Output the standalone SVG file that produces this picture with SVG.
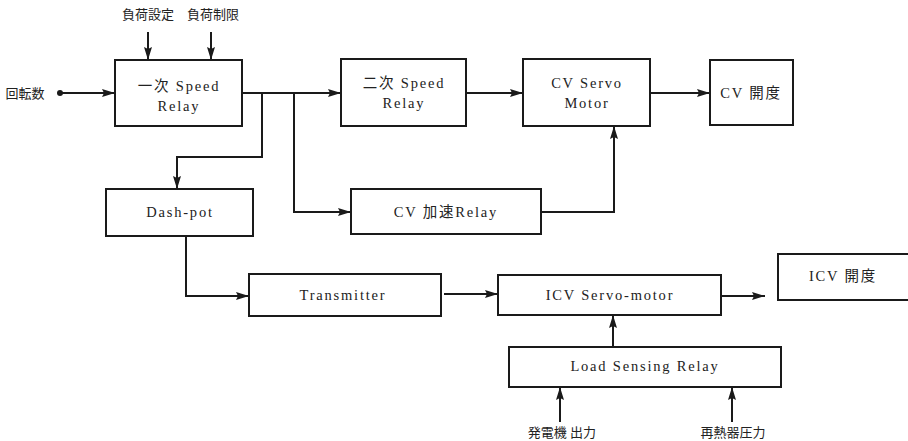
<svg xmlns="http://www.w3.org/2000/svg" width="908" height="441" viewBox="0 0 908 441">
<style>
.box{fill:#fff;stroke:#1a1a1a;stroke-width:2}
.ln{fill:none;stroke:#1a1a1a;stroke-width:2}
text{font-family:"Liberation Serif","Noto Sans CJK JP",serif;font-size:14.5px;fill:#222;text-anchor:middle;dominant-baseline:central;letter-spacing:1.8px}
.lab{font-size:13px;letter-spacing:0}
</style>
<defs>
<marker id="ah" viewBox="0 0 13 8" refX="13" refY="4" markerWidth="13" markerHeight="8" markerUnits="userSpaceOnUse" orient="auto">
<path d="M0,0 L13,4 L0,8 L2,4 Z" fill="#1a1a1a"/>
</marker>
</defs>
<g id="connectors">
<line class="ln" x1="148" y1="32" x2="148" y2="60" marker-end="url(#ah)"/>
<line class="ln" x1="211" y1="32" x2="211" y2="60" marker-end="url(#ah)"/>
<circle cx="60" cy="93" r="3" fill="#1a1a1a"/>
<line class="ln" x1="60" y1="93" x2="115" y2="93" marker-end="url(#ah)"/>
<line class="ln" x1="242" y1="93" x2="341" y2="93" marker-end="url(#ah)"/>
<polyline class="ln" points="262,93 262,157 177,157 177,189" marker-end="url(#ah)"/>
<polyline class="ln" points="294,93 294,212 351,212" marker-end="url(#ah)"/>
<line class="ln" x1="466" y1="93" x2="523" y2="93" marker-end="url(#ah)"/>
<line class="ln" x1="650" y1="93" x2="710" y2="93" marker-end="url(#ah)"/>
<polyline class="ln" points="541,212 614,212 614,126" marker-end="url(#ah)"/>
<polyline class="ln" points="186,236 186,296 249,296" marker-end="url(#ah)"/>
<line class="ln" x1="444" y1="294" x2="498" y2="294" marker-end="url(#ah)"/>
<line class="ln" x1="721" y1="296" x2="765" y2="296" marker-end="url(#ah)"/>
<line class="ln" x1="613" y1="347" x2="613" y2="315" marker-end="url(#ah)"/>
<line class="ln" x1="560" y1="422" x2="560" y2="387" marker-end="url(#ah)"/>
<line class="ln" x1="732" y1="422" x2="732" y2="387" marker-end="url(#ah)"/>
</g>
<g id="in-labels">
<text class="lab" x="148" y="14">負荷設定</text>
<text class="lab" x="213" y="14">負荷制限</text>
<text class="lab" x="25" y="93">回転数</text>
<text class="lab" x="562" y="432">発電機 出力</text>
<text class="lab" x="733" y="432">再熱器圧力</text>
</g>
<g id="n1"><rect class="box" x="115" y="60" width="127" height="66"/><text x="179" y="86">一次 Speed</text><text x="179" y="106">Relay</text></g>
<g id="n2"><rect class="box" x="341" y="59" width="125" height="67"/><text x="404" y="83">二次 Speed</text><text x="404" y="103">Relay</text></g>
<g id="n3"><rect class="box" x="523" y="59" width="127" height="67"/><text x="587" y="83">CV Servo</text><text x="587" y="103">Motor</text></g>
<g id="n4"><rect class="box" x="710" y="60" width="83" height="65"/><text x="751" y="93">CV 開度</text></g>
<g id="n5"><rect class="box" x="106" y="189" width="147" height="47"/><text x="180" y="212">Dash-pot</text></g>
<g id="n6"><rect class="box" x="351" y="189" width="190" height="45"/><text x="446" y="212">CV 加速Relay</text></g>
<g id="n7"><rect class="box" x="249" y="274" width="192" height="42"/><text x="343" y="295">Transmitter</text></g>
<g id="n8"><rect class="box" x="498" y="275" width="223" height="40"/><text x="610" y="295">ICV Servo-motor</text></g>
<g id="n9"><rect class="box" x="778" y="254" width="140" height="46"/><text x="843" y="276">ICV 開度</text></g>
<g id="n10"><rect class="box" x="509" y="347" width="272" height="40"/><text x="645" y="366">Load  Sensing Relay</text></g>
</svg>
